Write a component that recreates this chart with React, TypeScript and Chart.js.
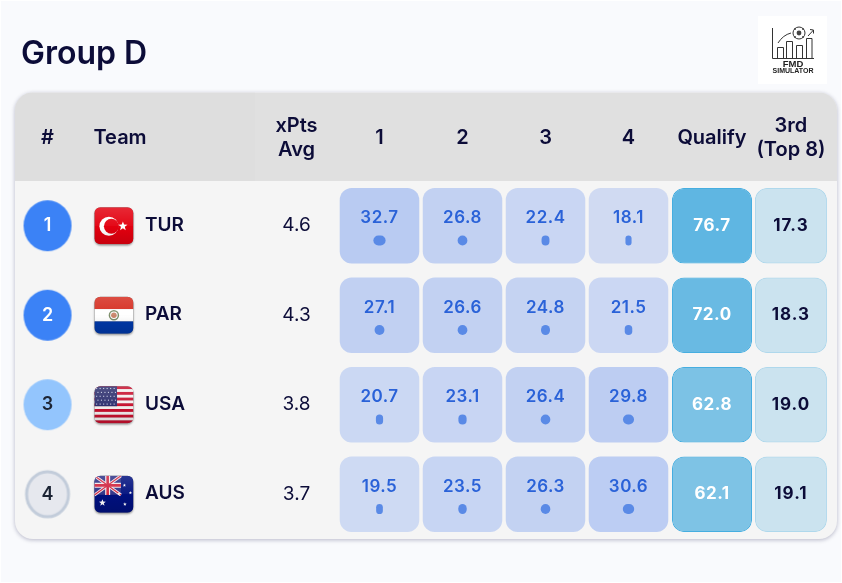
import React, { useEffect, useRef } from "react";
import { Chart, registerables } from "chart.js";

Chart.register(...registerables);

// ---- data ----
const title = "Group D";
const ranks = [1, 2, 3, 4];
const teams = ["TUR", "PAR", "USA", "AUS"];
const xPtsAvg = [4.6, 4.3, 3.8, 3.7];
const place1 = [32.7, 27.1, 20.7, 19.5];
const place2 = [26.8, 26.6, 23.1, 23.5];
const place3 = [22.4, 24.8, 26.4, 26.3];
const place4 = [18.1, 21.5, 29.8, 30.6];
const qualify = [76.7, 72.0, 62.8, 62.1];
const third = [17.3, 18.3, 19.0, 19.1];
const headerLabels: (string | string[])[] = ["#", "Team", ["xPts", "Avg"], "1", "2", "3", "4", "Qualify", ["3rd", "(Top 8)"]];

// ---- layout (in x-scale column units) ----
const headerAt = [0, 0.874, 3, 4, 5, 6, 7, 8.006, 8.957];
const placeCols = [4, 5, 6, 7];
const placeHalf = 0.479;
const qualifyCol = 8.006;
const qualifyHalf = 0.482;
const thirdCol = 8.957;
const thirdHalf = 0.434;
const flagCol = 0.8;
const teamCol = 1.175;
const avgCol = 3;

const FONT = "Inter, 'Noto Sans', sans-serif";
const INK = "#0c0c38";
const BLUE_TEXT = "#2a62d8";

const placeFill = (v: number) => `rgba(37,99,235,${0.0394 + 0.00767 * v})`;
const qualifyFill = (v: number) => `rgba(14,148,215,${0.65 - (76.7 - v) * 0.00935})`;
const dotWidth = (v: number) => Math.max(5, 0.42 * v - 1.5);

function makeCanvas(w: number, h: number, draw: (c: CanvasRenderingContext2D) => void) {
  const cv = document.createElement("canvas");
  cv.width = w;
  cv.height = h;
  draw(cv.getContext("2d")!);
  return cv;
}

const badgeStyle = (rank: number) =>
  makeCanvas(50, 53, (c) => {
    c.beginPath();
    if (rank === 4) {
      c.ellipse(25, 26.5, 21, 22.5, 0, 0, Math.PI * 2);
      c.fillStyle = "#e6e8ee";
      c.fill();
      c.lineWidth = 3;
      c.strokeStyle = "#c2ccda";
      c.stroke();
    } else {
      c.ellipse(25, 26.5, 24, 25.5, 0, 0, Math.PI * 2);
      c.fillStyle = rank === 3 ? "#93c5fd" : "#3b82f6";
      c.fill();
    }
  });

function rr(c: CanvasRenderingContext2D, x: number, y: number, w: number, h: number, r: number) {
  c.beginPath();
  c.roundRect(x, y, w, h, r);
}

function star(c: CanvasRenderingContext2D, x: number, y: number, r: number, rot = -Math.PI / 2) {
  c.beginPath();
  for (let i = 0; i < 10; i++) {
    const a = rot + (i * Math.PI) / 5;
    const rad = i % 2 ? r * 0.42 : r;
    c.lineTo(x + Math.cos(a) * rad, y + Math.sin(a) * rad);
  }
  c.closePath();
  c.fill();
}

function drawFlag(c: CanvasRenderingContext2D, team: string, x: number, y: number, w: number, h: number) {
  c.save();
  c.shadowColor = "rgba(0,0,0,0.35)";
  c.shadowBlur = 2;
  c.shadowOffsetY = 1.5;
  rr(c, x, y, w, h, 6);
  c.fillStyle = "#888";
  c.fill();
  c.restore();
  c.save();
  rr(c, x, y, w, h, 6);
  c.clip();
  if (team === "TUR") {
    c.fillStyle = "#e3000f";
    c.fillRect(x, y, w, h);
    c.fillStyle = "#fff";
    c.beginPath();
    c.arc(x + 14.5, y + 19, 9.5, 0, Math.PI * 2);
    c.fill();
    c.fillStyle = "#e3000f";
    c.beginPath();
    c.arc(x + 17, y + 19, 7.5, 0, Math.PI * 2);
    c.fill();
    c.fillStyle = "#fff";
    star(c, x + 28.5, y + 19, 4.8);
  } else if (team === "PAR") {
    c.fillStyle = "#d52b1e";
    c.fillRect(x, y, w, h / 3);
    c.fillStyle = "#fff";
    c.fillRect(x, y + h / 3, w, h / 3);
    c.fillStyle = "#0038a8";
    c.fillRect(x, y + (2 * h) / 3, w, h / 3);
    c.strokeStyle = "#7d8f6a";
    c.lineWidth = 1.5;
    c.beginPath();
    c.arc(x + w / 2, y + h / 2, 4.5, 0, Math.PI * 2);
    c.stroke();
    c.fillStyle = "#c9866b";
    c.beginPath();
    c.arc(x + w / 2, y + h / 2, 2.8, 0, Math.PI * 2);
    c.fill();
  } else if (team === "USA") {
    const sh = h / 13;
    for (let i = 0; i < 13; i++) {
      c.fillStyle = i % 2 ? "#f4f0f0" : "#c8102e";
      c.fillRect(x, y + i * sh, w, sh + 0.3);
    }
    c.fillStyle = "#2d2f6e";
    c.fillRect(x, y, w * 0.58, sh * 7);
    c.fillStyle = "#c5c9e0";
    for (let r = 0; r < 5; r++) {
      for (let k = 0; k < 6; k++) {
        c.fillRect(x + 1.7 + k * 3.5 + (r % 2) * 1.3, y + 1.7 + r * 3.9, 1.1, 1.1);
      }
    }
  } else {
    c.fillStyle = "#00107e";
    c.fillRect(x, y, w, h);
    const cw = w * 0.68;
    const ch = h * 0.52;
    c.fillStyle = "#2b2f86";
    c.fillRect(x, y, cw, ch);
    c.strokeStyle = "#f3e6ea";
    c.lineWidth = 3;
    c.beginPath();
    c.moveTo(x, y);
    c.lineTo(x + cw, y + ch);
    c.moveTo(x + cw, y);
    c.lineTo(x, y + ch);
    c.stroke();
    c.lineWidth = 5;
    c.beginPath();
    c.moveTo(x + cw / 2, y);
    c.lineTo(x + cw / 2, y + ch);
    c.moveTo(x, y + ch / 2);
    c.lineTo(x + cw, y + ch / 2);
    c.stroke();
    c.strokeStyle = "#d0233e";
    c.lineWidth = 1.2;
    c.beginPath();
    c.moveTo(x, y);
    c.lineTo(x + cw, y + ch);
    c.moveTo(x + cw, y);
    c.lineTo(x, y + ch);
    c.stroke();
    c.lineWidth = 2.6;
    c.beginPath();
    c.moveTo(x + cw / 2, y);
    c.lineTo(x + cw / 2, y + ch);
    c.moveTo(x, y + ch / 2);
    c.lineTo(x + cw, y + ch / 2);
    c.stroke();
    c.fillStyle = "#fff";
    star(c, x + 8, y + 27, 3.6);
    star(c, x + 30, y + 9.5, 1.7);
    star(c, x + 36, y + 17, 1.7);
    star(c, x + 24.5, y + 18, 1.7);
    star(c, x + 30.5, y + 28.5, 1.9);
  }
  const g = c.createLinearGradient(0, y, 0, y + h);
  g.addColorStop(0, "rgba(255,255,255,0.16)");
  g.addColorStop(0.5, "rgba(255,255,255,0.04)");
  g.addColorStop(0.51, "rgba(0,0,0,0)");
  g.addColorStop(1, "rgba(0,0,0,0.12)");
  c.fillStyle = g;
  c.fillRect(x, y, w, h);
  c.restore();
}

function drawLogo(c: CanvasRenderingContext2D) {
  c.save();
  c.fillStyle = "#ffffff";
  c.fillRect(758, 16, 69, 68);
  c.strokeStyle = "#333";
  c.lineWidth = 1;
  c.beginPath();
  c.moveTo(772.5, 28);
  c.lineTo(772.5, 58.5);
  c.lineTo(814, 58.5);
  c.stroke();
  [
    [777, 47, 6],
    [786, 41, 6],
    [796, 45, 6],
    [806, 38, 5.5],
  ].forEach(([x, top, w]) => {
    c.beginPath();
    c.moveTo(x + 0.5, 58);
    c.lineTo(x + 0.5, top + 0.5);
    c.lineTo(x + w + 0.5, top + 0.5);
    c.lineTo(x + w + 0.5, 58);
    c.stroke();
  });
  c.beginPath();
  c.moveTo(778, 43);
  c.quadraticCurveTo(783, 35, 791, 33);
  c.stroke();
  c.beginPath();
  c.arc(799, 33, 6, 0, Math.PI * 2);
  c.stroke();
  c.fillStyle = "#444";
  c.beginPath();
  c.arc(799, 33, 2.4, 0, Math.PI * 2);
  c.fill();
  [[795, 29], [803, 29], [795, 37], [803, 37]].forEach(([x, y]) => {
    c.beginPath();
    c.arc(x, y, 1, 0, Math.PI * 2);
    c.fill();
  });
  c.beginPath();
  c.moveTo(808, 36);
  c.lineTo(813.5, 30);
  c.moveTo(810, 29.5);
  c.lineTo(813.5, 30);
  c.lineTo(813.5, 33.5);
  c.stroke();
  c.fillStyle = "#222";
  c.textAlign = "center";
  c.textBaseline = "middle";
  c.font = "bold 9.5px 'Liberation Sans', sans-serif";
  c.fillText("FMD", 793, 64);
  c.font = "bold 7px 'Liberation Sans', sans-serif";
  c.fillText("SIMULATOR", 793, 71.5);
  c.restore();
}

const tablePlugin = {
  id: "tableFrame",
  beforeDraw(chart: any) {
    const c: CanvasRenderingContext2D = chart.ctx;
    const a = chart.chartArea;
    c.save();
    c.fillStyle = "#ffffff";
    c.fillRect(0, 0, chart.width, chart.height);
    c.fillStyle = "#f9fafd";
    c.fillRect(1, 1, chart.width - 2, chart.height - 2);
    const top = 92.5;
    c.save();
    c.shadowColor = "rgba(10,10,60,0.28)";
    c.shadowBlur = 4;
    c.shadowOffsetY = 1;
    rr(c, a.left, top, a.right - a.left, a.bottom - top, 18);
    c.fillStyle = "#f5f5f5";
    c.fill();
    c.restore();
    c.save();
    rr(c, a.left, top, a.right - a.left, a.bottom - top, 18);
    c.clip();
    c.fillStyle = "#e0e0e0";
    c.fillRect(a.left, top, a.right - a.left, a.top - top);
    c.fillStyle = "#dedede";
    c.fillRect(a.left, top, 240, a.top - top);
    c.restore();
    c.fillStyle = INK;
    c.textBaseline = "middle";
    c.textAlign = "left";
    c.font = `600 32px ${FONT}`;
    c.fillText(title, 21, 54);
    c.restore();
    drawLogo(c);
  },
  afterDatasetsDraw(chart: any) {
    const c: CanvasRenderingContext2D = chart.ctx;
    const x = chart.scales.x;
    const y = chart.scales.y2;
    c.save();
    chart.data.datasets.forEach((ds: any, d: number) => {
      if (!ds.dotValues) return;
      chart.getDatasetMeta(d).data.forEach((p: any, i: number) => {
        const w = dotWidth(ds.dotValues[i]);
        c.fillStyle = "#5a8ae6";
        rr(c, p.x - w / 2, p.y - 5, w, 10, Math.min(w / 2, 5));
        c.fill();
      });
    });
    c.textBaseline = "middle";
    teams.forEach((team, i) => {
      const cy = y.getPixelForValue(i);
      c.textAlign = "center";
      c.font = `600 18px ${FONT}`;
      c.fillStyle = ranks[i] <= 2 ? "#ffffff" : "#1c2434";
      c.fillText(String(ranks[i]), x.getPixelForValue(0), cy);
      drawFlag(c, team, x.getPixelForValue(flagCol) - 19.5, cy - 18.5, 39, 37);
      c.textAlign = "left";
      c.font = `600 19px ${FONT}`;
      c.fillStyle = INK;
      c.fillText(team, x.getPixelForValue(teamCol), cy - 0.5);
      c.textAlign = "center";
      c.font = `400 19px ${FONT}`;
      c.fillText(xPtsAvg[i].toFixed(1), x.getPixelForValue(avgCol), cy);
      (c as any).letterSpacing = "0.5px";
      c.font = `600 17px ${FONT}`;
      c.fillStyle = BLUE_TEXT;
      [place1, place2, place3, place4].forEach((col, k) => {
        c.fillText(col[i].toFixed(1), x.getPixelForValue(placeCols[k]), y.getPixelForValue(i - 0.085));
      });
      c.font = `700 17px ${FONT}`;
      c.fillStyle = "#ffffff";
      c.fillText(qualify[i].toFixed(1), x.getPixelForValue(qualifyCol), cy);
      (c as any).letterSpacing = "1px";
      c.font = `700 17px ${FONT}`;
      c.fillStyle = INK;
      c.fillText(third[i].toFixed(1), x.getPixelForValue(thirdCol), cy);
      (c as any).letterSpacing = "0px";
    });
    c.restore();
  },
};

const spanRows = (center: number, half: number) => teams.map(() => [center - half, center + half]);

export default function App() {
  const ref = useRef<HTMLCanvasElement>(null);
  useEffect(() => {
    document.body.style.margin = "0";
    const places = [place1, place2, place3, place4];
    const barCommon = {
      type: "bar" as const,
      indexAxis: "y" as const,
      xAxisID: "x",
      yAxisID: "y",
      grouped: false,
      categoryPercentage: 1,
      barPercentage: 0.845,
      borderRadius: 12,
      borderSkipped: false,
      order: 3,
    };
    const chart = new Chart(ref.current!, {
      type: "bar",
      data: {
        labels: teams,
        datasets: [
          ...places.map((vals, k) => ({
            ...barCommon,
            label: `Place ${k + 1}`,
            data: spanRows(placeCols[k], placeHalf),
            backgroundColor: vals.map(placeFill),
            borderWidth: 0,
          })),
          {
            ...barCommon,
            label: "Qualify",
            data: spanRows(qualifyCol, qualifyHalf),
            backgroundColor: qualify.map(qualifyFill),
            borderColor: "rgba(60,170,222,0.95)",
            borderWidth: 1,
          },
          {
            ...barCommon,
            label: "3rd (Top 8)",
            data: spanRows(thirdCol, thirdHalf),
            backgroundColor: third.map(() => "rgba(14,148,215,0.175)"),
            borderColor: "rgba(14,148,215,0.3)",
            borderWidth: 1,
          },
          ...places.map((vals, k) => ({
            type: "scatter" as const,
            label: `Place ${k + 1} marker`,
            xAxisID: "x",
            yAxisID: "y2",
            order: 1,
            dotValues: vals,
            data: vals.map((_, i) => ({ x: placeCols[k], y: i + 0.165 })),
            pointRadius: 0,
          })),
          {
            type: "scatter" as const,
            label: "Rank",
            xAxisID: "x",
            yAxisID: "y2",
            order: 2,
            data: ranks.map((_, i) => ({ x: 0, y: i })),
            pointStyle: ranks.map(badgeStyle),
            pointRadius: 25,
          },
        ] as any,
      },
      options: {
        animation: false,
        responsive: false,
        devicePixelRatio: 1,
        layout: { autoPadding: false, padding: { left: 15, right: 5, top: 93, bottom: 44 } },
        plugins: { legend: { display: false }, tooltip: { enabled: false }, title: { display: false } },
        events: [],
        scales: {
          x: {
            type: "linear",
            position: "top",
            offset: false,
            bounds: "data",
            min: -0.3916,
            max: 9.512,
            grid: { display: false, drawTicks: false, offset: false },
            border: { display: false },
            afterBuildTicks: (s: any) => {
              s.ticks = headerAt.map((value) => ({ value }));
            },
            afterFit: (s: any) => {
              s.height = 88;
              s.paddingLeft = 0;
              s.paddingRight = 0;
            },
            ticks: {
              autoSkip: false,
              maxRotation: 0,
              minRotation: 0,
              crossAlign: "center",
              padding: 31.5,
              color: INK,
              font: { family: FONT, size: 20, weight: "600", lineHeight: 1.2 },
              callback: (_: any, i: number) => headerLabels[i],
            },
          },
          y: { type: "category", labels: teams, display: false, offset: true, grid: { display: false } },
          y2: { type: "linear", display: false, reverse: true, min: -0.5, max: 3.5, grid: { display: false } },
        },
      } as any,
      plugins: [tablePlugin],
    });
    return () => chart.destroy();
  }, []);
  return (
    <div style={{ position: "absolute", left: 0, top: 0, width: 842, height: 583, overflow: "hidden" }}>
      <canvas ref={ref} width={842} height={583} style={{ display: "block", width: 842, height: 583 }} />
    </div>
  );
}
